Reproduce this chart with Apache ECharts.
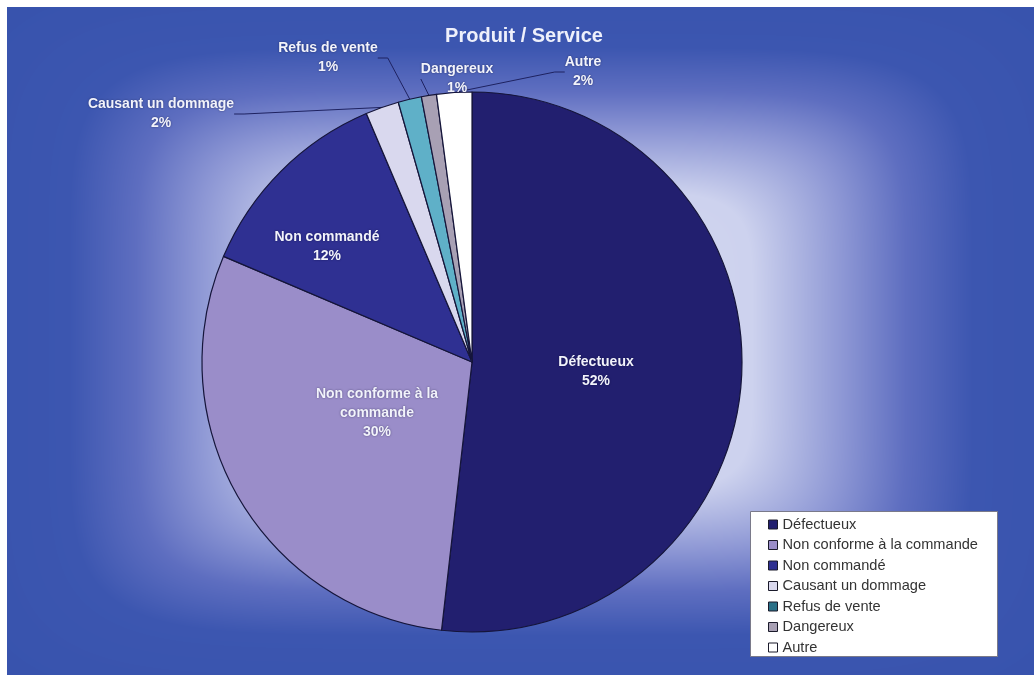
<!DOCTYPE html>
<html>
<head>
<meta charset="utf-8">
<script src="https://cdn.jsdelivr.net/npm/echarts@6/dist/echarts.min.js"></script>
<style>
html,body{margin:0;padding:0;background:#fff;}
#wrap{position:relative;width:1034px;height:675px;overflow:hidden;}
#bg{position:absolute;left:0;top:0;}
#chart{position:absolute;left:0;top:0;width:1034px;height:675px;}
</style>
</head>
<body>
<div id="wrap">
<canvas id="bg" width="1034" height="675"></canvas>
<div id="chart"></div>
</div>
<script>
// ---- data ----
const categories = ['Défectueux','Non conforme à la commande','Non commandé','Causant un dommage','Refus de vente','Dangereux','Autre'];
const labelNames = ['Défectueux','Non conforme à la\ncommande','Non commandé','Causant un dommage','Refus de vente','Dangereux','Autre'];
const values = [51.8, 29.6, 12.2, 2.0, 1.4, 0.9, 2.1];
const chartTitle = 'Produit / Service';

// ---- styles ----
const sliceColors = ['#221f6f','#9a8dc9','#2f3092','#d9d8ee','#5fb0c8','#a8a0b4','#ffffff'];
const legendColors = ['#221f6f','#9a8dc9','#2f3092','#d9d8ee','#2a7088','#a8a0b4','#ffffff'];
const insideIdx = [0,1,2];
// label anchor points (centre of label block)
const labelPos = [[596,372],[377,413],[327,247],[161,114],[328,58],[457,79],[583,72]];

// ---- background (rounded rectangular path gradient) ----
(function(){
  const c = document.getElementById('bg');
  const ctx = c.getContext('2d');
  const W = 1034, H = 675;
  ctx.fillStyle = '#ffffff'; ctx.fillRect(0,0,W,H);
  const x0 = 7, y0 = 7, x1 = 1034, y1 = 675;
  const cx = (x0+x1)/2, cy = (y0+y1)/2, hw = (x1-x0)/2, hh = (y1-y0)/2;
  const stops = [[0,[214,217,241]],[0.45,[205,210,238]],[0.63,[140,150,212]],[0.75,[94,110,192]],[0.88,[60,86,176]],[1.2,[54,82,172]]];
  function col(t){
    for(let i=1;i<stops.length;i++){
      if(t<=stops[i][0]){
        const a=stops[i-1], b=stops[i];
        const f=(t-a[0])/(b[0]-a[0]);
        return [a[1][0]+(b[1][0]-a[1][0])*f, a[1][1]+(b[1][1]-a[1][1])*f, a[1][2]+(b[1][2]-a[1][2])*f];
      }
    }
    return stops[stops.length-1][1];
  }
  const P = 6;
  const img = ctx.getImageData(0,0,W,H);
  const d = img.data;
  for(let y=y0;y<y1;y++){
    for(let x=x0;x<x1;x++){
      const u = Math.abs(x-cx)/hw, v = Math.abs(y-cy)/hh;
      const t = Math.pow(Math.pow(u,P)+Math.pow(v,P), 1/P);
      const k = col(t);
      const i = (y*W+x)*4;
      d[i]=k[0]; d[i+1]=k[1]; d[i+2]=k[2]; d[i+3]=255;
    }
  }
  ctx.putImageData(img,0,0);
})();

// ---- chart ----
const chart = echarts.init(document.getElementById('chart'), null, {renderer:'canvas'});
const font = '"Liberation Sans", Arial, sans-serif';
const pieData = categories.map((name,i)=>({
  name: name,
  value: values[i],
  itemStyle: {color: sliceColors[i]},
  labelLine: {show: insideIdx.indexOf(i) < 0}
}));

chart.setOption({
  backgroundColor: 'transparent',
  animation: false,
  title: {
    text: chartTitle,
    left: 519, top: 21, textAlign: 'center',
    textStyle: {color:'#eef0fb', fontSize:20, fontWeight:'bold', fontFamily: font}
  },
  graphic: [{
    type:'rect', z: 1,
    shape:{x:750.5, y:511.5, width:247, height:145},
    style:{fill:'#ffffff', stroke:'#7a7a8a', lineWidth:1}
  }],
  legend: {
    orient:'vertical', left:763, top:512, z: 10,
    icon:'rect', itemWidth:9, itemHeight:9, itemGap:5.5,
    data: categories.map((n,i)=>({name:n, itemStyle:{color: legendColors[i]}})),
    itemStyle:{borderColor:'#1a1a2a', borderWidth:1},
    textStyle:{color:'#333', fontSize:14.6, lineHeight:15, fontFamily: font},
    selectedMode:false
  },
  series: [{
    type:'pie',
    center:[472,362],
    radius:270,
    startAngle:90,
    clockwise:true,
    avoidLabelOverlap:false,
    itemStyle:{borderColor:'#15153a', borderWidth:1.2},
    label:{
      show:true,
      position:'outside',
      formatter: p => labelNames[p.dataIndex] + '\n' + Math.round(p.percent) + '%',
      color:'#f2f3fb', fontSize:14, fontWeight:'bold', fontFamily: font,
      lineHeight:19, align:'center',
      textShadowColor:'rgba(0,0,40,0.5)', textShadowBlur:2
    },
    labelLine:{show:true, length:10, length2:10, smooth:false, lineStyle:{color:'#1e2260', width:1}},
    labelLayout: function(params){
      const p = labelPos[params.dataIndex];
      return {x:p[0], y:p[1], align:'center', verticalAlign:'middle'};
    },
    data: pieData
  }]
});
</script>
</body>
</html>
